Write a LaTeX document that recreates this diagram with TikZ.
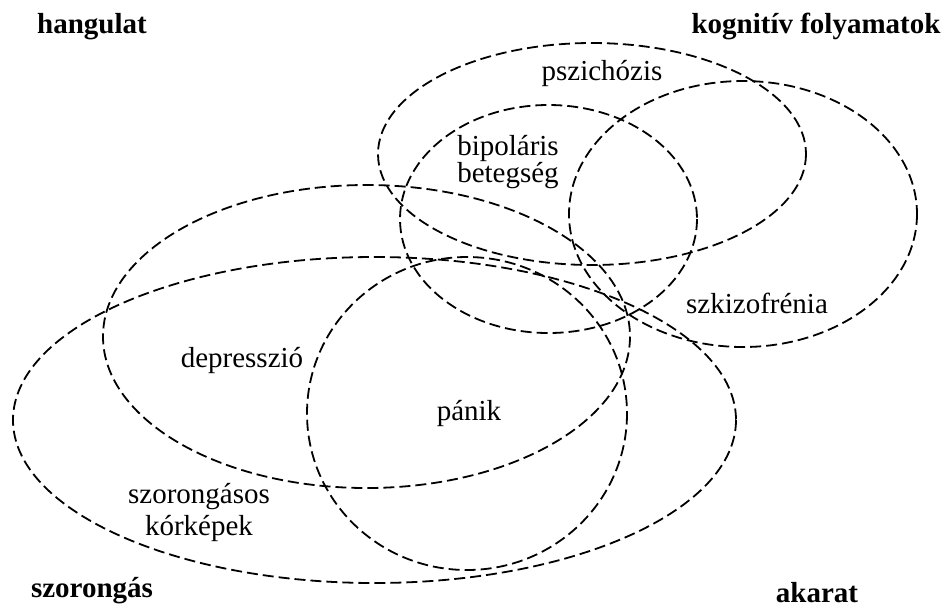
\documentclass[tikz,border=0pt]{standalone}
\usepackage{fontspec}
\setmainfont{Liberation Serif}
\begin{document}
\begin{tikzpicture}[x=0.5pt,y=-0.5pt,
    halmaz/.style={line width=0.9pt,dash pattern=on 5.5pt off 2.5pt},
    felirat/.style={font=\fontsize{14.5}{13.5}\selectfont,anchor=base,inner sep=0pt,align=center},
    tengely/.style={felirat,font=\fontsize{14.5}{17}\selectfont\bfseries}]
    \useasboundingbox (0,0) rectangle (948,607);

    % pszichozis
    \draw[halmaz] (592,154) ellipse [x radius=214, y radius=111];
    % bipolaris betegseg
    \draw[halmaz] (548.5,219) ellipse [x radius=148.5, y radius=114];
    % szkizofrenia
    \draw[halmaz] (743,214) ellipse [x radius=174, y radius=133];
    % depresszio
    \draw[halmaz] (366.5,336.5) ellipse [x radius=263.5, y radius=151.5];
    % panik
    \draw[halmaz] (467,413.5) ellipse [x radius=160, y radius=156.5];
    % szorongasos korkepek
    \draw[halmaz] (374.5,420) ellipse [x radius=361.5, y radius=163];

    \node[tengely] (hangulat) at (92,33) {hangulat};
    \node[tengely] (kognitiv) at (816,33) {kognitív folyamatok};
    \node[tengely] (szorongas) at (92,597) {szorongás};
    \node[tengely] (akarat) at (817,602) {akarat};

    \node[felirat] (pszichozis) at (602,80) {pszichózis};
    \node[felirat] (bipolaris) at (508,182) {bipoláris\\betegség};
    \node[felirat] (szkizofrenia) at (757,313) {szkizofrénia};
    \node[felirat] (depresszio) at (242,367) {depresszió};
    \node[felirat] (panik) at (469,420) {pánik};
    \node[felirat,font=\fontsize{14.5}{16}\selectfont] (korkepek) at (199,535) {szorongásos\\kórképek};
\end{tikzpicture}
\end{document}
